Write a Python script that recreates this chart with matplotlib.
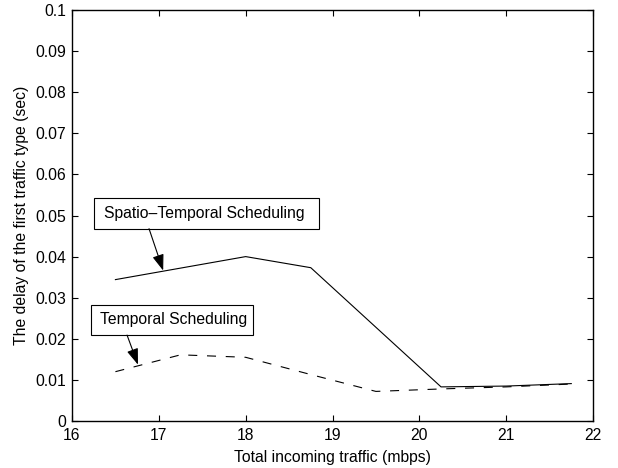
import matplotlib
matplotlib.use("Agg")
import matplotlib.pyplot as plt
from matplotlib.patches import Rectangle

plt.rcParams['font.family'] = ['Liberation Sans', 'DejaVu Sans']
plt.rcParams['lines.scale_dashes'] = False

traffic = [16.5, 17.25, 18.0, 18.75, 19.5, 20.25, 21.0, 21.75]
spatio_temporal = [0.0344, 0.0372, 0.0400, 0.0373, 0.0228, 0.0083, 0.0085, 0.0091]
temporal = [0.0120, 0.0161, 0.0155, 0.0113, 0.0072, 0.0078, 0.0083, 0.0090]
xticks = [16, 17, 18, 19, 20, 21, 22]
yticks = [0, 0.01, 0.02, 0.03, 0.04, 0.05, 0.06, 0.07, 0.08, 0.09, 0.1]
ytick_labels = ['0', '0.01', '0.02', '0.03', '0.04', '0.05', '0.06', '0.07', '0.08', '0.09', '0.1']

FS = 11.3

fig = plt.figure(figsize=(6.18, 4.68), dpi=100)
ax = fig.add_axes([72/618, 1-421/468, (593-72)/618, (421-10)/468])

ax.plot(traffic, spatio_temporal, color='black', linewidth=0.8)
ax.plot(traffic, temporal, color='black', linewidth=0.8, dashes=(6.5, 7))

ax.set_xlim(16, 22)
ax.set_ylim(0, 0.1)
ax.set_xticks(xticks)
ax.set_xticklabels([str(t) for t in xticks])
ax.set_yticks(yticks)
ax.set_yticklabels(ytick_labels)
ax.tick_params(direction='in', length=4, width=0.8, top=True, right=True,
               labelsize=FS)
ax.tick_params(axis='x', pad=5)
ax.tick_params(axis='y', pad=4)
for s in ax.spines.values():
    s.set_linewidth(1.0)

ax.set_xlabel('Total incoming traffic (mbps)', fontsize=FS, labelpad=5)
ax.set_ylabel('The delay of the first traffic type (sec)', fontsize=FS, labelpad=5)

# label boxes
ax.add_patch(Rectangle((16.249, 0.04683), 18.846 - 16.249, 0.05415 - 0.04683,
                       facecolor='white', edgecolor='black', linewidth=0.8, zorder=3))
ax.add_patch(Rectangle((16.219, 0.02098), 18.085 - 16.219, 0.02829 - 0.02098,
                       facecolor='white', edgecolor='black', linewidth=0.8, zorder=3))
ax.text(17.52, 0.0505, 'Spatio\u2013Temporal Scheduling', ha='center', va='center',
        fontsize=FS, zorder=4)
ax.text(17.17, 0.0246, 'Temporal Scheduling', ha='center', va='center',
        fontsize=FS, zorder=4)

arrow = dict(arrowstyle='-|>,head_length=0.7,head_width=0.25', color='black',
             linewidth=0.8, mutation_scale=14, shrinkA=0, shrinkB=0)
ax.annotate('', xy=(17.05, 0.0366), xytext=(16.887, 0.0468), arrowprops=arrow)
ax.annotate('', xy=(16.76, 0.0137), xytext=(16.634, 0.0209), arrowprops=arrow)

fig.savefig('out.png', dpi=100)
